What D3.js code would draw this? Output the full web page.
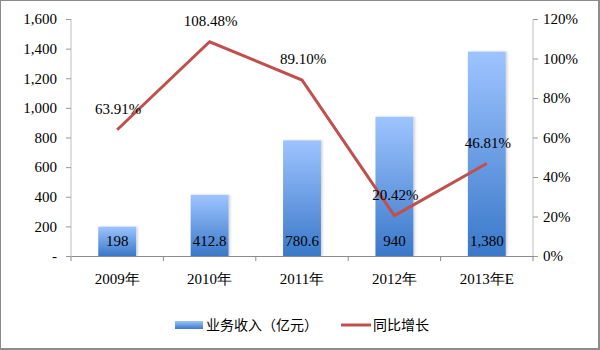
<!DOCTYPE html>
<html>
<head>
<meta charset="utf-8">
<script src="https://cdn.jsdelivr.net/npm/d3@7"></script>
<style>
  html, body { margin: 0; padding: 0; background: #fff; }
  svg { display: block; }
</style>
</head>
<body>
<svg id="chart" width="600" height="350"></svg>
<script>
// Business revenue (100 million yuan) and year-on-year growth
const categories = ["2009年", "2010年", "2011年", "2012年", "2013年E"];
const revenue = [198, 412.8, 780.6, 940, 1380];
const revenueLabels = ["198", "412.8", "780.6", "940", "1,380"];
const growth = [63.91, 108.48, 89.10, 20.42, 46.81];
const growthLabels = ["63.91%", "108.48%", "89.10%", "20.42%", "46.81%"];
const leftTicks = [0, 200, 400, 600, 800, 1000, 1200, 1400, 1600];
const rightTicks = [0, 20, 40, 60, 80, 100, 120];
const legendNames = ["业务收入（亿元）", "同比增长"];

const svg = d3.select("#chart");
const W = 600, H = 350;
const m = { left: 71, right: 67, top: 19, bottom: 94 };
const plotW = W - m.left - m.right;
const plotH = H - m.top - m.bottom;

const serif = "'Liberation Serif', 'Times New Roman', serif";
const cjk = "'Noto Sans CJK SC', sans-serif";

// outer frame
svg.append("rect").attr("x", 0.5).attr("y", 0.5).attr("width", W - 2).attr("height", H - 2)
  .attr("fill", "#fff").attr("stroke", "#8c8c8c").attr("stroke-width", 1);
svg.append("line").attr("x1", W - 1).attr("x2", W - 1).attr("y1", 0).attr("y2", H)
  .attr("stroke", "#8c8c8c").attr("stroke-width", 2);
svg.append("line").attr("x1", 0).attr("x2", W).attr("y1", H - 1).attr("y2", H - 1)
  .attr("stroke", "#8c8c8c").attr("stroke-width", 2);

const defs = svg.append("defs");
const grad = defs.append("linearGradient").attr("id", "barGrad")
  .attr("x1", 0).attr("y1", 0).attr("x2", 0).attr("y2", 1);
grad.append("stop").attr("offset", "0%").attr("stop-color", "#9ec4ff");
grad.append("stop").attr("offset", "100%").attr("stop-color", "#3a78c9");
const legGrad = defs.append("linearGradient").attr("id", "legGrad")
  .attr("x1", 0).attr("y1", 0).attr("x2", 0).attr("y2", 1);
legGrad.append("stop").attr("offset", "0%").attr("stop-color", "#9ec4ff");
legGrad.append("stop").attr("offset", "100%").attr("stop-color", "#3a78c9");
const shadow = defs.append("filter").attr("id", "barShadow")
  .attr("x", "-20%").attr("y", "-5%").attr("width", "140%").attr("height", "110%");
shadow.append("feDropShadow").attr("dx", 1.5).attr("dy", 0).attr("stdDeviation", 1)
  .attr("flood-color", "#000").attr("flood-opacity", 0.18);

const g = svg.append("g").attr("transform", `translate(${m.left},${m.top})`);

const x = d3.scaleBand().domain(categories).range([0, plotW]).paddingInner(0.59).paddingOuter(0.295);
const xc = d3.scaleBand().domain(categories).range([0, plotW]);
const yL = d3.scaleLinear().domain([0, 1600]).range([plotH, 0]);
const yR = d3.scaleLinear().domain([0, 120]).range([plotH, 0]);

// left axis
const axL = g.append("g").call(d3.axisLeft(yL).tickValues(leftTicks).tickSize(5).tickPadding(9)
  .tickFormat(d => d === 0 ? "-" : d3.format(",")(d)));
// right axis
const axR = g.append("g").attr("transform", `translate(${plotW},0)`)
  .call(d3.axisRight(yR).tickValues(rightTicks).tickSize(5).tickPadding(5).tickFormat(d => d + "%"));
[axL, axR].forEach(a => {
  a.select(".domain").attr("stroke", "#bfbfbf").attr("d", `M0,${plotH}V0`);
  a.selectAll(".tick line").attr("stroke", "#999");
  a.selectAll("text").attr("font-family", serif).attr("font-size", 15).attr("fill", "#000");
});

// bars
g.append("g").selectAll("rect").data(revenue).join("rect")
  .attr("x", (d, i) => x(categories[i]))
  .attr("width", x.bandwidth())
  .attr("y", d => yL(d))
  .attr("height", d => plotH - yL(d))
  .attr("fill", "url(#barGrad)")
  .attr("filter", "url(#barShadow)");

// bottom axis
const axB = g.append("g").attr("transform", `translate(0,${plotH})`)
  .call(d3.axisBottom(xc).tickSize(0).tickPadding(17));
axB.select(".domain").attr("stroke", "#8c8c8c");
axB.selectAll("text").attr("font-family", serif).attr("font-size", 15).attr("fill", "#000");
g.append("g").selectAll("line").data(d3.range(categories.length + 1)).join("line")
  .attr("x1", i => i * xc.step()).attr("x2", i => i * xc.step())
  .attr("y1", plotH).attr("y2", plotH + 5).attr("stroke", "#8c8c8c");

// bar value labels
g.append("g").selectAll("text").data(revenue).join("text")
  .attr("x", (d, i) => xc(categories[i]) + xc.bandwidth() / 2)
  .attr("y", plotH - 10)
  .attr("text-anchor", "middle")
  .attr("font-family", serif).attr("font-size", 15).attr("fill", "#000")
  .text((d, i) => revenueLabels[i]);

// growth line
const line = d3.line()
  .x((d, i) => xc(categories[i]) + xc.bandwidth() / 2)
  .y(d => yR(d));
g.append("path").datum(growth).attr("d", line)
  .attr("fill", "none").attr("stroke", "#c0504d").attr("stroke-width", 3)
  .attr("stroke-linejoin", "miter");

g.append("g").selectAll("text").data(growth).join("text")
  .attr("x", (d, i) => xc(categories[i]) + xc.bandwidth() / 2 + 1)
  .attr("y", d => yR(d) - 16)
  .attr("text-anchor", "middle")
  .attr("font-family", serif).attr("font-size", 15).attr("fill", "#000")
  .text((d, i) => growthLabels[i]);

// legend
const leg = svg.append("g").attr("transform", "translate(175,325)");
leg.append("rect").attr("x", 0).attr("y", -4).attr("width", 28).attr("height", 8)
  .attr("fill", "url(#legGrad)");
leg.append("text").attr("x", 31).attr("y", 5).attr("font-family", cjk).attr("font-size", 14)
  .attr("fill", "#000").text(legendNames[0]);
leg.append("line").attr("x1", 166).attr("x2", 196).attr("y1", 0).attr("y2", 0)
  .attr("stroke", "#c0504d").attr("stroke-width", 3);
leg.append("text").attr("x", 198).attr("y", 5).attr("font-family", cjk).attr("font-size", 14)
  .attr("fill", "#000").text(legendNames[1]);
</script>
</body>
</html>
